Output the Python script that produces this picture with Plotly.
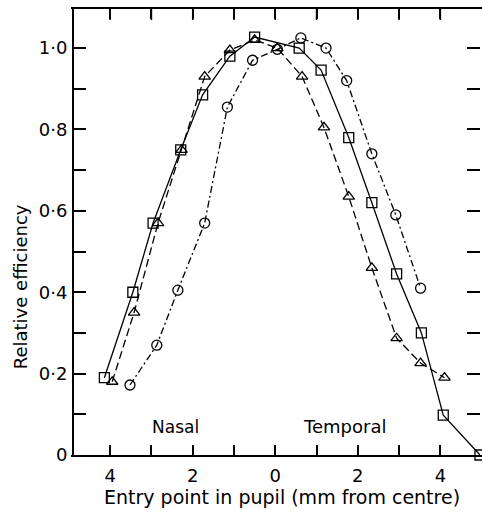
import plotly.graph_objects as go

# Entry point in pupil (mm from centre); nasal side negative, temporal positive
sq_x = [-4.14, -3.45, -2.96, -2.29, -1.76, -1.10, -0.50, 0.58, 1.11, 1.78, 2.34, 2.94, 3.54, 4.07, 4.96]
sq_y = [0.19, 0.40, 0.57, 0.75, 0.885, 0.98, 1.027, 1.00, 0.946, 0.78, 0.62, 0.445, 0.30, 0.098, 0.0]

tri_x = [-3.95, -3.42, -2.84, -2.27, -1.71, -1.10, -0.50, 0.05, 0.65, 1.18, 1.78, 2.34, 2.94, 3.52, 4.10]
tri_y = [0.18, 0.35, 0.57, 0.75, 0.93, 0.995, 1.02, 1.00, 0.93, 0.805, 0.635, 0.46, 0.287, 0.226, 0.19]

cir_x = [-3.52, -2.87, -2.36, -1.71, -1.16, -0.55, 0.05, 0.62, 1.23, 1.73, 2.34, 2.92, 3.52]
cir_y = [0.172, 0.27, 0.405, 0.57, 0.855, 0.97, 0.997, 1.025, 1.00, 0.92, 0.74, 0.59, 0.41]

x_tickvals = [-4, -3, -2, -1, 0, 1, 2, 3, 4]
x_ticktext = ["4", "", "2", "", "0", "", "2", "", "4"]
y_tickvals = [0, 0.1, 0.2, 0.3, 0.4, 0.5, 0.6, 0.7, 0.8, 0.9, 1.0]
y_ticktext = ["0", "", "0·2", "", "0·4", "", "0·6", "", "0·8", "", "1·0"]

FONT = "DejaVu Sans"
fig = go.Figure()

fig.add_trace(go.Scatter(
    x=sq_x, y=sq_y, mode="lines+markers",
    line=dict(color="black", width=1.3),
    marker=dict(symbol="square-open", size=10, color="black", line=dict(width=1.3)),
    cliponaxis=False, showlegend=False))
fig.add_trace(go.Scatter(
    x=tri_x, y=tri_y, mode="lines+markers",
    line=dict(color="black", width=1.3, dash="8px,4px"),
    marker=dict(symbol="triangle-up-open", size=10, color="black", line=dict(width=1.3)),
    cliponaxis=False, showlegend=False))
fig.add_trace(go.Scatter(
    x=cir_x, y=cir_y, mode="lines+markers",
    line=dict(color="black", width=1.3, dash="7px,3px,2px,3px"),
    marker=dict(symbol="circle-open", size=10, color="black", line=dict(width=1.3)),
    cliponaxis=False, showlegend=False))

plot_h = 514 - 9 - 59
top_tick_len = 11 / plot_h
# top-edge tick marks at the x tick values
top_ticks = [dict(type="line", xref="x", yref="paper", x0=v, x1=v,
                  y0=1, y1=1 - top_tick_len, line=dict(color="black", width=1.5))
             for v in x_tickvals]

fig.update_layout(
    width=482, height=514,
    margin=dict(l=73, r=0, t=9, b=59),
    paper_bgcolor="white", plot_bgcolor="white",
    font=dict(family=FONT, size=18, color="black"),
    xaxis=dict(range=[-4.9, 4.96], tickvals=x_tickvals, ticktext=x_ticktext,
               ticks="inside", ticklen=10, tickwidth=2, tickcolor="black",
               showline=True, linecolor="black", linewidth=2, mirror="allticks",
               showgrid=False, zeroline=False, ticklabelstandoff=3,
               tickfont=dict(size=18)),
    yaxis=dict(range=[0, 1.096], tickvals=y_tickvals, ticktext=y_ticktext,
               ticks="inside", ticklen=13, tickwidth=2, tickcolor="black",
               showline=True, linecolor="rgba(0,0,0,0)", linewidth=2,
               mirror="allticks",
               showgrid=False, zeroline=False, tickfont=dict(size=18)),
    shapes=[dict(type="line", xref="paper", yref="paper", x0=0, x1=0, y0=0, y1=1,
                 line=dict(color="black", width=2))] + top_ticks,
    annotations=[
        dict(text="Nasal", x=-2.42, y=0.07, xref="x", yref="y", showarrow=False,
             font=dict(size=17)),
        dict(text="Temporal", x=1.68, y=0.07, xref="x", yref="y", showarrow=False,
             font=dict(size=18)),
        dict(text="Relative efficiency", x=20, y=287, xref="paper", yref="paper",
             showarrow=False, textangle=-90, font=dict(size=18),
             xanchor="center", yanchor="middle"),
        dict(text="Entry point in pupil (mm from centre)", x=283, y=497,
             xref="paper", yref="paper", showarrow=False, font=dict(size=19),
             xanchor="center", yanchor="middle"),
    ],
)

# convert pixel-positioned annotations to paper coordinates
pw, ph = 482 - 73 - 0, plot_h
for a in fig.layout.annotations:
    if a.xref == "paper" and a.x > 1:
        a.x = (a.x - 73) / pw
        a.y = (514 - 59 - a.y) / ph

fig.write_html("out.html")
